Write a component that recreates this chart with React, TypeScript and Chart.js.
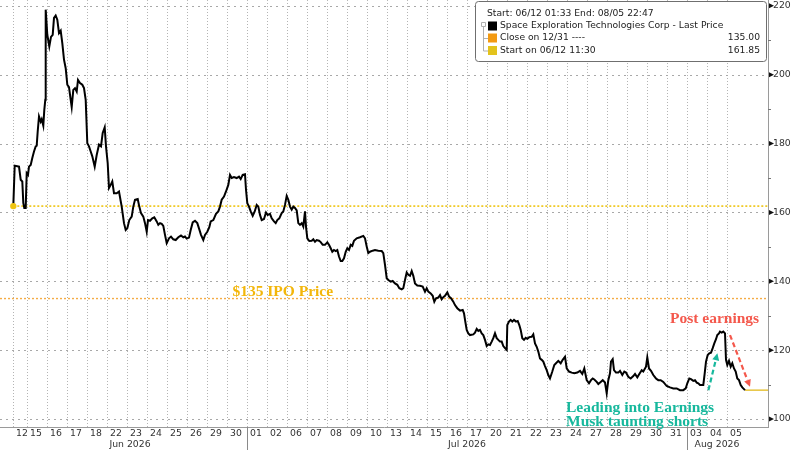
import React, { useEffect, useRef } from 'react';
import { Chart, registerables } from 'chart.js';

Chart.register(...registerables);

// ---------- data ----------
// trading-day labels (one per session)
const dayLabels = ['12','15','16','17','18','22','23','24','25','26','29','30','01','02','06','07','08','09','10','13','14','15','16','17','20','21','22','23','24','27','28','29','30','31','03','04','05'];
const monthLabels = ['Jun 2026', 'Jul 2026', 'Aug 2026'];
const monthFirstDay = [0, 12, 34];
const firstSessionStart = 0.3; // first session (06/12) starts part-way

// time = trading-day index + fraction of session
const priceTime = [
  0.315,0.385,0.6,0.685,0.765,0.815,0.865,0.935,0.985,1.05,
  1.1,1.185,1.265,1.35,1.435,1.485,1.535,1.6,1.685,1.735,
  1.815,1.865,1.915,1.935,2.015,2.115,2.2,2.285,2.35,2.435,
  2.515,2.6,2.685,2.765,2.85,2.935,3.015,3.1,3.185,3.235,
  3.315,3.4,3.485,3.55,3.65,3.765,3.85,3.935,4.015,4.1,
  4.185,4.265,4.385,4.485,4.6,4.7,4.785,4.885,4.95,5.035,
  5.1,5.185,5.265,5.35,5.485,5.6,5.735,5.85,5.935,6.015,
  6.115,6.235,6.315,6.4,6.535,6.615,6.7,6.815,6.9,6.985,
  7.05,7.15,7.265,7.365,7.485,7.565,7.65,7.735,7.815,7.9,
  7.985,8.1,8.2,8.315,8.435,8.565,8.7,8.815,8.9,8.985,
  9.1,9.185,9.285,9.4,9.515,9.615,9.7,9.815,9.9,10.015,
  10.115,10.185,10.315,10.45,10.565,10.65,10.735,10.85,10.95,11.065,
  11.15,11.235,11.35,11.485,11.6,11.685,11.785,11.9,11.95,12.015,
  12.1,12.185,12.285,12.385,12.485,12.565,12.65,12.735,12.85,12.95,
  13.035,13.15,13.235,13.35,13.435,13.515,13.615,13.735,13.815,13.9,
  13.985,14.065,14.15,14.235,14.315,14.4,14.485,14.565,14.65,14.735,
  14.815,14.9,14.95,15.015,15.115,15.235,15.315,15.4,15.485,15.6,
  15.685,15.785,15.9,16.015,16.1,16.185,16.265,16.35,16.435,16.515,
  16.6,16.685,16.765,16.85,16.935,17.015,17.1,17.185,17.265,17.35,
  17.485,17.65,17.815,17.9,17.985,18.065,18.15,18.285,18.4,18.565,
  18.735,18.815,18.9,18.985,19.065,19.185,19.285,19.4,19.515,19.615,
  19.735,19.815,19.9,19.985,20.065,20.15,20.235,20.315,20.4,20.515,
  20.65,20.785,20.9,20.985,21.065,21.185,21.285,21.365,21.45,21.565,
  21.65,21.735,21.815,21.9,22.015,22.1,22.2,22.315,22.4,22.515,
  22.65,22.785,22.85,22.915,22.985,23.065,23.15,23.315,23.4,23.485,
  23.565,23.65,23.735,23.815,23.9,23.985,24.065,24.15,24.235,24.315,
  24.4,24.485,24.565,24.65,24.735,24.815,24.9,24.985,25.015,25.1,
  25.185,25.265,25.35,25.45,25.535,25.615,25.685,25.765,25.85,25.935,
  26.015,26.115,26.235,26.315,26.4,26.485,26.565,26.65,26.735,26.815,
  26.9,26.985,27.065,27.15,27.265,27.365,27.45,27.565,27.685,27.785,
  27.9,27.985,28.1,28.235,28.365,28.515,28.65,28.765,28.865,28.985,
  29.1,29.2,29.285,29.365,29.485,29.565,29.685,29.785,29.9,29.985,
  30.065,30.15,30.2,30.285,30.35,30.45,30.565,30.65,30.765,30.865,
  30.95,31.065,31.185,31.315,31.4,31.515,31.615,31.735,31.815,31.95,
  32.015,32.1,32.2,32.315,32.45,32.565,32.685,32.815,32.985,33.15,
  33.315,33.485,33.65,33.815,33.935,34.015,34.115,34.2,34.315,34.4,
  34.485,34.565,34.65,34.815,34.885,34.95,35.035,35.115,35.2,35.285,
  35.365,35.45,35.515,35.6,35.65,35.735,35.815,35.9,35.95,36.015,
  36.1,36.185,36.265,36.35,36.435,36.515,36.6,36.685,36.765,36.85,
  36.9
];

const lastPrice = [
  161.85,173.6,173.3,169.5,169.0,162.8,161.3,161.3,171.4,170.9,
  173.3,173.8,175.8,177.7,179.2,179.4,183.5,187.9,186.4,187.1,
  185.2,189.8,192.7,218.9,211.6,208.2,211.0,211.6,216.5,217.2,
  216.0,212.1,212.8,209.2,204.4,201.9,197.1,196.4,192.7,190.6,
  195.6,196.1,195.1,198.5,197.6,197.1,196.1,192.7,180.1,179.2,
  177.7,176.3,173.3,176.7,179.7,179.2,183.1,184.7,179.2,174.3,
  167.1,168.0,169.0,165.6,165.6,166.1,161.7,156.9,154.9,155.4,
  157.8,158.8,161.7,163.7,163.9,161.7,159.8,158.8,156.9,154.4,
  157.8,157.6,158.3,158.6,157.4,156.4,156.9,156.7,156.1,153.5,
  151.1,152.5,153.0,152.2,152.0,152.8,153.3,152.8,153.0,152.4,
  152.7,154.9,157.1,157.6,156.9,155.1,153.5,152.0,153.5,154.4,
  155.7,157.4,157.8,159.6,160.3,161.7,163.7,164.6,166.1,168.0,
  170.9,170.0,170.3,170.0,170.4,169.7,170.9,171.1,166.6,162.7,
  161.7,160.3,159.0,160.3,162.2,161.7,159.3,157.8,158.1,160.0,
  159.3,159.6,158.3,157.4,156.9,157.8,158.3,159.8,160.3,162.2,
  164.8,163.7,161.7,160.8,161.7,161.3,160.6,156.9,156.4,156.9,
  155.9,160.3,155.9,152.5,151.7,151.8,152.2,151.5,152.0,151.8,
  151.4,150.6,150.6,151.3,150.6,149.6,148.6,149.1,148.8,149.1,
  147.2,145.9,145.9,146.7,148.6,149.6,149.1,150.6,150.3,151.8,
  152.5,152.8,153.2,152.5,150.1,148.2,148.6,148.9,149.1,148.9,
  148.8,148.2,144.8,140.9,140.4,139.9,140.1,139.4,139.0,138.0,
  137.7,138.0,140.4,142.6,141.9,141.6,143.0,141.6,139.4,138.8,
  138.7,138.5,137.0,138.0,137.0,136.5,135.8,134.1,135.1,135.3,
  136.0,134.8,135.4,135.8,136.8,135.6,135.1,134.1,133.1,132.2,
  131.5,131.7,130.7,128.3,125.9,124.9,124.4,124.6,125.1,126.2,
  125.6,125.9,124.9,124.4,123.0,121.2,121.7,121.5,122.5,123.5,
  124.9,123.5,123.0,122.5,122.5,121.2,120.6,120.1,127.3,128.3,
  128.8,128.3,128.8,128.3,128.5,127.3,125.9,123.5,123.0,123.6,
  123.3,123.8,123.9,124.6,122.0,121.0,119.6,117.6,117.2,116.7,
  115.4,114.2,112.8,111.8,113.8,115.7,116.2,116.9,116.2,117.2,
  118.1,114.7,113.8,113.5,113.3,113.5,114.0,113.1,114.7,111.3,
  110.4,111.3,111.8,111.5,110.8,110.2,110.8,111.3,110.6,107.5,
  111.3,113.3,116.7,117.4,114.2,113.5,113.5,114.0,112.8,113.8,
  113.5,112.3,111.8,112.5,113.1,112.1,113.1,114.2,113.8,115.2,
  117.9,114.7,114.0,112.8,111.8,111.3,111.3,110.8,109.6,109.2,
  108.9,108.9,108.4,108.4,108.9,110.4,111.8,111.6,111.1,111.3,
  110.6,110.4,109.9,109.9,113.3,116.7,118.6,119.1,119.3,120.6,
  122.0,123.2,124.4,124.9,125.4,125.1,125.4,124.9,117.2,115.7,
  116.9,115.2,116.2,114.7,113.8,111.8,111.3,109.9,109.2,108.7,
  108.4
];

const closeOn1231 = 135.0;
const startOn0612 = 161.85;
const yTickValues = [100, 110, 120, 130, 140, 150, 160, 170, 180, 190, 200, 210, 220];

const legendHeader = 'Start: 06/12 01:33 End: 08/05 22:47';
const legendNames = ['Space Exploration Technologies Corp - Last Price', 'Close on 12/31 ----', 'Start on 06/12 11:30'];
const legendValues = ['', '135.00', '161.85'];

// annotation texts, anchored in data coordinates (day, price)
const noteTexts = ['$135 IPO Price', 'Post earnings', 'Leading into Earnings', 'Musk taunting shorts'];
const noteAt = [[11.27, 135.6], [33.15, 127.8], [27.95, 102.0], [27.95, 97.95]];
const arrowFrom = [[35.07, 108.4], [36.15, 124.4]];
const arrowTo = [[35.52, 119.1], [37.15, 109.4]];

// ---------- styling ----------
const X_MIN = -0.35;
const X_MAX = 38.05;
const Y_MIN = 97.7;
const Y_MAX = 221.7;
const GOLD = '#f3b60a';
const RED = '#f4584c';
const TEAL = '#17b89d';
const YELLOW = '#efc40f';
const ORANGE = '#f5ac45';
const V_GRID = '#b4b4b4';
const H_GRID = '#a8a8a8';
const noteColors = [GOLD, RED, TEAL, TEAL];
const arrowColors = [TEAL, RED];
const legendColors = ['#000000', '#f39a12', '#e3c31c'];

const n = Math.min(priceTime.length, lastPrice.length);
const pricePoints = Array.from({ length: n }, (_, i) => ({ x: priceTime[i], y: lastPrice[i] }));
const lastT = priceTime[n - 1];
const lastV = lastPrice[n - 1];
const dayStarts = dayLabels.map((_, i) => (i === 0 ? firstSessionStart : i));
const monthEnds = [...monthFirstDay.slice(1), dayLabels.length];
const monthCenters = monthFirstDay.map((s, i) => ((s === 0 ? firstSessionStart : s) + monthEnds[i]) / 2);
const monthBreaks = monthFirstDay.slice(1);

const gridPlugin = {
  id: 'dottedGrid',
  beforeDatasetsDraw(chart: any) {
    const { ctx, chartArea, scales } = chart;
    const xs = scales.x;
    const ys = scales.y;
    ctx.save();
    ctx.lineWidth = 1;
    // vertical session gridlines
    ctx.strokeStyle = V_GRID;
    ctx.setLineDash([1, 2]);
    dayStarts.forEach((d) => {
      const px = Math.round(xs.getPixelForValue(d)) + 0.5;
      ctx.beginPath();
      ctx.moveTo(px, chartArea.top);
      ctx.lineTo(px, chartArea.bottom);
      ctx.stroke();
    });
    // horizontal major gridlines
    ctx.strokeStyle = H_GRID;
    ctx.setLineDash([2, 4]);
    yTickValues.filter((v) => v % 20 === 0).forEach((v) => {
      const py = Math.round(ys.getPixelForValue(v)) + 0.5;
      ctx.beginPath();
      ctx.moveTo(chartArea.left, py);
      ctx.lineTo(chartArea.right, py);
      ctx.stroke();
    });
    ctx.restore();
  },
};

const overlay = {
  id: 'overlay',
  afterDraw(chart: any) {
    const { ctx, chartArea, scales } = chart;
    const xs = scales.x;
    const ys = scales.y;
    ctx.save();
    // month separators below axis
    ctx.strokeStyle = '#8a8a8a';
    ctx.lineWidth = 1;
    monthBreaks.forEach((b) => {
      const px = Math.round(xs.getPixelForValue(b)) + 0.5;
      ctx.beginPath();
      ctx.moveTo(px, chartArea.bottom);
      ctx.lineTo(px, chart.height);
      ctx.stroke();
    });
    // y axis: minor tick marks and major arrows
    yTickValues.forEach((v) => {
      const py = ys.getPixelForValue(v);
      if (v % 20 === 0) {
        ctx.fillStyle = '#111';
        ctx.beginPath();
        ctx.moveTo(chartArea.right + 1, py - 2.5);
        ctx.lineTo(chartArea.right + 6, py);
        ctx.lineTo(chartArea.right + 1, py + 2.5);
        ctx.closePath();
        ctx.fill();
      } else {
        ctx.strokeStyle = '#777';
        ctx.beginPath();
        ctx.moveTo(chartArea.right, Math.round(py) + 0.5);
        ctx.lineTo(chartArea.right + 3, Math.round(py) + 0.5);
        ctx.stroke();
      }
    });
    // annotation texts
    ctx.font = 'bold 15.5px "Liberation Serif", "DejaVu Serif", serif';
    ctx.textAlign = 'left';
    ctx.textBaseline = 'alphabetic';
    noteTexts.forEach((t, i) => {
      ctx.fillStyle = noteColors[i];
      ctx.fillText(t, xs.getPixelForValue(noteAt[i][0]), ys.getPixelForValue(noteAt[i][1]));
    });
    // dashed arrows
    arrowFrom.forEach((f, i) => {
      const x1 = xs.getPixelForValue(f[0]);
      const y1 = ys.getPixelForValue(f[1]);
      const x2 = xs.getPixelForValue(arrowTo[i][0]);
      const y2 = ys.getPixelForValue(arrowTo[i][1]);
      const ang = Math.atan2(y2 - y1, x2 - x1);
      const head = 7;
      const bx = x2 - head * Math.cos(ang);
      const by = y2 - head * Math.sin(ang);
      ctx.strokeStyle = arrowColors[i];
      ctx.fillStyle = arrowColors[i];
      ctx.lineWidth = 2.2;
      ctx.setLineDash([5, 3]);
      ctx.beginPath();
      ctx.moveTo(x1, y1);
      ctx.lineTo(bx, by);
      ctx.stroke();
      ctx.setLineDash([]);
      ctx.beginPath();
      ctx.moveTo(x2, y2);
      ctx.lineTo(bx + 3.5 * Math.sin(ang), by - 3.5 * Math.cos(ang));
      ctx.lineTo(bx - 3.5 * Math.sin(ang), by + 3.5 * Math.cos(ang));
      ctx.closePath();
      ctx.fill();
    });
    // legend box
    const bw = 291;
    const bh = 60;
    const bx0 = chartArea.right - bw - 2;
    const by0 = chartArea.top + 1;
    ctx.lineWidth = 1;
    ctx.fillStyle = '#ffffff';
    ctx.strokeStyle = '#6f6f6f';
    ctx.beginPath();
    if (ctx.roundRect) ctx.roundRect(bx0 + 0.5, by0 + 0.5, bw, bh, 3);
    else ctx.rect(bx0 + 0.5, by0 + 0.5, bw, bh);
    ctx.fill();
    ctx.stroke();
    ctx.font = '9.2px "DejaVu Sans", sans-serif';
    ctx.fillStyle = '#222';
    ctx.textBaseline = 'middle';
    ctx.textAlign = 'left';
    ctx.fillText(legendHeader, bx0 + 12, by0 + 13);
    const rowY = [by0 + 25, by0 + 37, by0 + 49.5];
    // tree connector
    ctx.strokeStyle = '#b0b0b0';
    ctx.beginPath();
    ctx.rect(bx0 + 6.5, rowY[0] - 3.5, 4, 4);
    ctx.moveTo(bx0 + 8.5, rowY[0] + 0.5);
    ctx.lineTo(bx0 + 8.5, rowY[2] + 0.5);
    ctx.moveTo(bx0 + 8.5, rowY[1] + 0.5);
    ctx.lineTo(bx0 + 13, rowY[1] + 0.5);
    ctx.moveTo(bx0 + 8.5, rowY[2] + 0.5);
    ctx.lineTo(bx0 + 13, rowY[2] + 0.5);
    ctx.stroke();
    legendNames.forEach((name, i) => {
      ctx.fillStyle = legendColors[i];
      ctx.fillRect(bx0 + 13, rowY[i] - 4.5, 9, 9);
      ctx.fillStyle = '#222';
      ctx.textAlign = 'left';
      ctx.fillText(name, bx0 + 25, rowY[i]);
      if (legendValues[i]) {
        ctx.textAlign = 'right';
        ctx.fillText(legendValues[i], bx0 + bw - 6, rowY[i]);
      }
    });
    ctx.restore();
  },
};

export default function App() {
  const ref = useRef<HTMLCanvasElement | null>(null);
  useEffect(() => {
    if (!ref.current) return;
    Chart.defaults.font.family = '"DejaVu Sans", sans-serif';
    Chart.defaults.font.size = 9.3;
    Chart.defaults.color = '#333';
    const chart = new Chart(ref.current, {
      type: 'line',
      data: {
        datasets: [
          {
            label: 'start dot',
            data: [{ x: priceTime[0], y: startOn0612 }],
            xAxisID: 'x', yAxisID: 'y',
            pointRadius: 3.2, pointBackgroundColor: YELLOW, pointBorderWidth: 0,
            showLine: false, order: -1,
          },
          {
            label: 'Last Price',
            data: pricePoints,
            xAxisID: 'x', yAxisID: 'y',
            borderColor: '#000', borderWidth: 2, pointRadius: 0, tension: 0, order: 0,
          },
          {
            label: 'last level',
            data: [{ x: lastT, y: lastV }, { x: X_MAX, y: lastV }],
            xAxisID: 'x', yAxisID: 'y',
            borderColor: '#e6c23a', borderWidth: 1.5, pointRadius: 0, order: 1,
          },
          {
            label: 'Start on 06/12',
            data: [{ x: priceTime[0], y: startOn0612 }, { x: X_MAX, y: startOn0612 }],
            xAxisID: 'x', yAxisID: 'y',
            borderColor: YELLOW, borderWidth: 1.6, borderDash: [2, 2], pointRadius: 0, order: 2,
          },
          {
            label: 'Close on 12/31',
            data: [{ x: X_MIN, y: closeOn1231 }, { x: X_MAX, y: closeOn1231 }],
            xAxisID: 'x', yAxisID: 'y',
            borderColor: ORANGE, borderWidth: 1.4, borderDash: [2, 2], pointRadius: 0, order: 3,
          },
        ],
      },
      options: {
        animation: false,
        responsive: true,
        maintainAspectRatio: false,
        layout: { padding: 0, autoPadding: false },
        plugins: { legend: { display: false }, tooltip: { enabled: false } },
        scales: {
          x: {
            type: 'linear', position: 'bottom', weight: 0, min: X_MIN, max: X_MAX,
            afterBuildTicks: (s: any) => { s.ticks = dayStarts.map((v) => ({ value: v })); },
            afterFit: (s: any) => { s.height = 12; s.paddingLeft = 0; s.paddingRight = 0; },
            ticks: {
              autoSkip: false, maxRotation: 0, minRotation: 0, padding: 1, labelOffset: 9,
              color: '#333',
              callback: (_v: any, i: number) => dayLabels[i] ?? '',
            },
            grid: { display: true, drawOnChartArea: false, drawTicks: false },
            border: { display: true, color: '#9a9a9a', width: 1 },
          },
          xMonth: {
            type: 'linear', position: 'bottom', weight: 1, min: X_MIN, max: X_MAX,
            afterBuildTicks: (s: any) => { s.ticks = monthCenters.map((v) => ({ value: v })); },
            afterFit: (s: any) => { s.height = 11; s.paddingLeft = 0; s.paddingRight = 0; },
            ticks: {
              autoSkip: false, maxRotation: 0, minRotation: 0, padding: 0, color: '#333',
              callback: (_v: any, i: number) => monthLabels[i] ?? '',
            },
            grid: { display: false, drawTicks: false },
            border: { display: false },
          },
          y: {
            type: 'linear', position: 'right', min: Y_MIN, max: Y_MAX,
            afterBuildTicks: (s: any) => { s.ticks = yTickValues.map((v) => ({ value: v })); },
            afterFit: (s: any) => { s.width = 32; s.paddingTop = 0; s.paddingBottom = 0; },
            ticks: {
              padding: 1, color: '#333',
              callback: (v: any) => (Number(v) % 20 === 0 ? String(v) : ''),
            },
            grid: { display: true, drawOnChartArea: false, drawTicks: true, tickLength: 4, tickColor: 'rgba(0,0,0,0)' },
            border: { display: true, color: '#9a9a9a', width: 1 },
          },
        },
      },
      plugins: [gridPlugin, overlay],
    } as any);
    return () => chart.destroy();
  }, []);
  return (
    <div style={{ position: 'fixed', left: 0, top: 0, width: 800, height: 450, background: '#fff' }}>
      <canvas ref={ref} />
    </div>
  );
}
